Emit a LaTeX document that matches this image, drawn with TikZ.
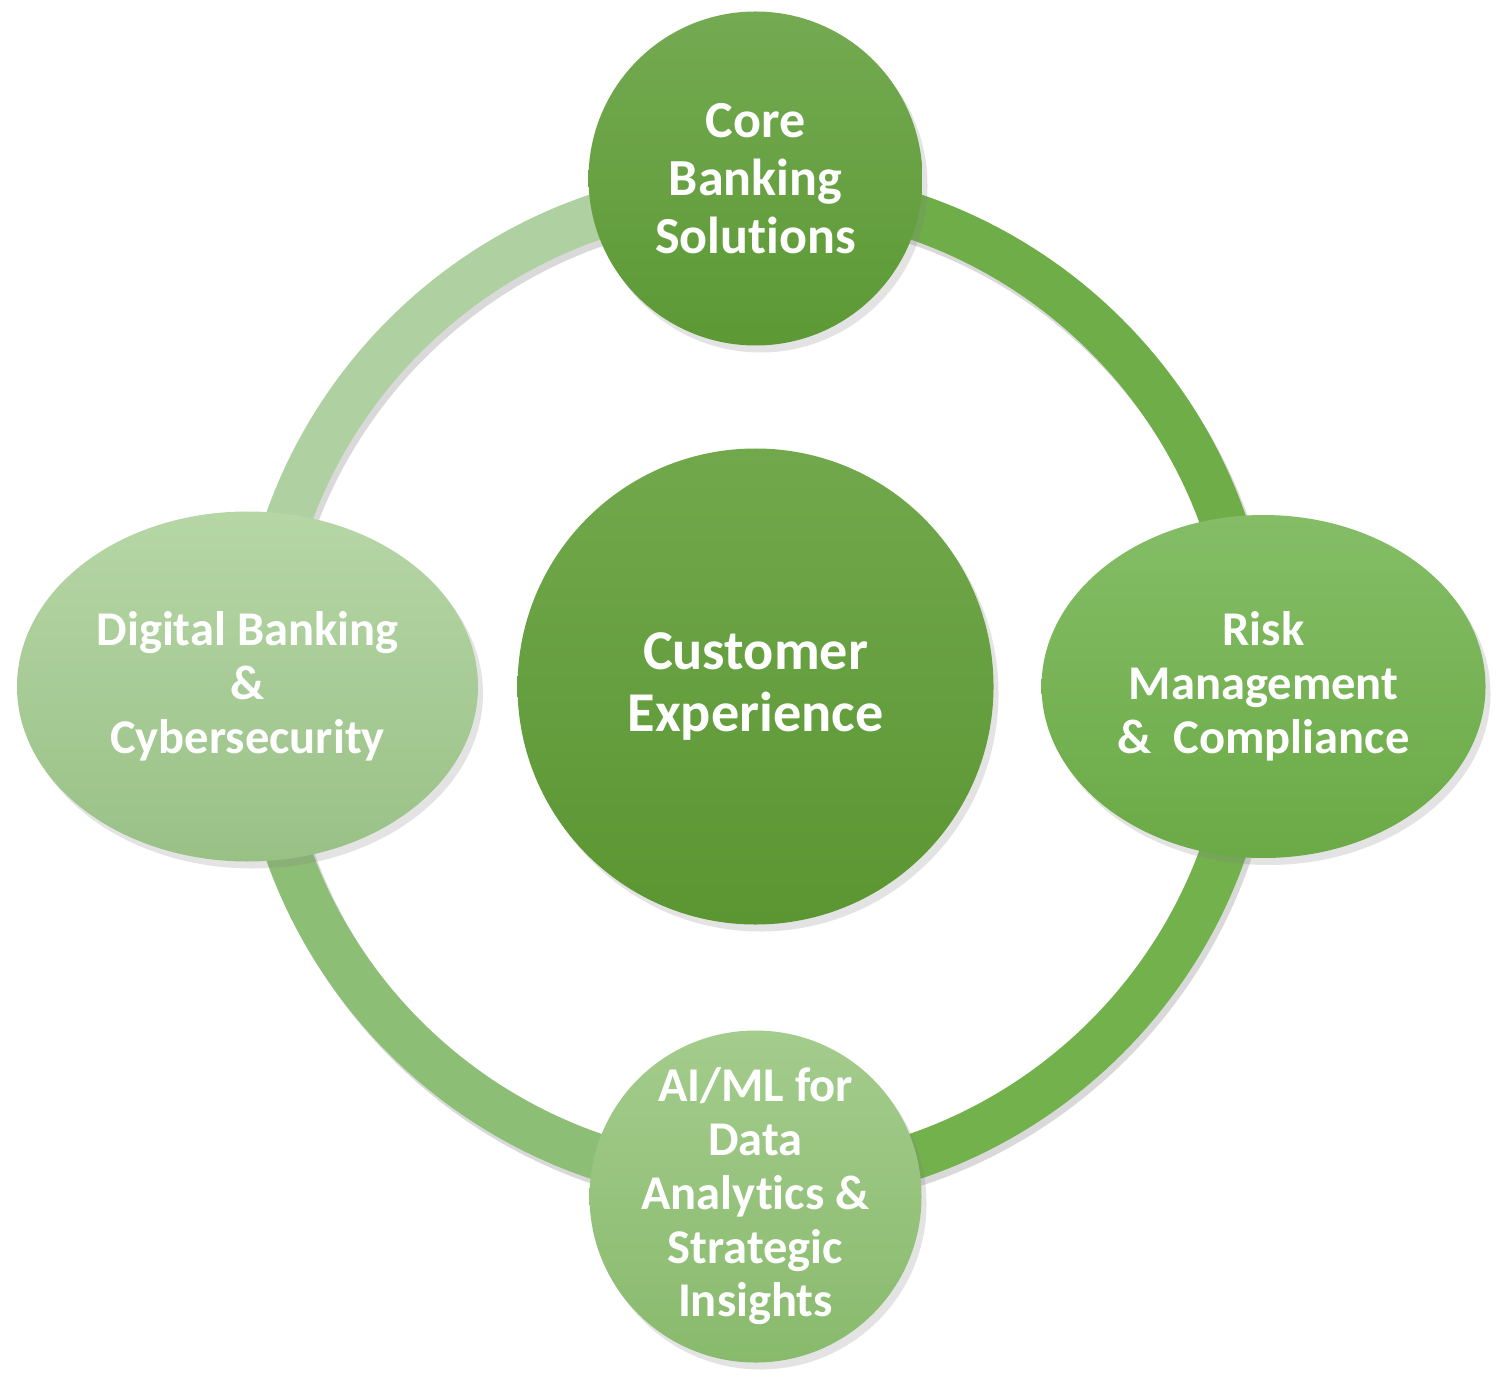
\documentclass[tikz,border=0pt]{standalone}
\usepackage{fontspec}
\setmainfont{Carlito}[Ligatures={TeX,NoCommon}]
\usepackage{xcolor}
\usepackage{tikz}
\usetikzlibrary{positioning, shapes.geometric, shadows}

\definecolor{hubtop}{HTML}{71A84C}
\definecolor{hubbot}{HTML}{5B9632}
\definecolor{coretop}{HTML}{74AA52}
\definecolor{corebot}{HTML}{5C9934}
\definecolor{risktop}{HTML}{84BD66}
\definecolor{riskbot}{HTML}{6BAA46}
\definecolor{digitop}{HTML}{B6D6A6}
\definecolor{digibot}{HTML}{99C186}
\definecolor{aimltop}{HTML}{A4CC8D}
\definecolor{aimlbot}{HTML}{88BA6C}
\definecolor{ringTR}{HTML}{6FAD48}
\definecolor{ringTL}{HTML}{AFD0A0}
\definecolor{ringBL}{HTML}{8DBE76}
\definecolor{ringBR}{HTML}{73B14D}

\tikzset{
  ring/.style={line width=0.46cm},
  bubble/.style={inner sep=-2pt, text=white, align=center,
    font=\bfseries\fontsize{13.8}{15.3}\selectfont,
    drop shadow={opacity=0.22, shadow xshift=0.05cm, shadow yshift=-0.07cm}},
}

\begin{document}
\begin{tikzpicture}[node distance=5.08cm, on grid]
  \useasboundingbox (0,0) rectangle (15.05,13.85);
  \coordinate (o) at (7.555,6.985);

  % the ring, one quarter at a time
  \draw[ring, black, opacity=0.15] ([shift={(0.04,-0.06)}]o) circle (4.96);
  \foreach \a/\c in {0/ringTR, 90/ringTL, 180/ringBL, 270/ringBR}
    \draw[ring, \c] (o) ++(\a:4.96) arc[start angle=\a, end angle=\a+90, radius=4.96];

  \node[bubble, circle, minimum size=4.76cm, top color=hubtop, bottom color=hubbot,
        font=\bfseries\fontsize{16}{17.4}\selectfont] (C) at (o) {Customer\\Experience};
  \node[bubble, circle, minimum size=3.34cm, top color=coretop, bottom color=corebot,
        font=\bfseries\fontsize{14.8}{16.5}\selectfont] (T) [above=of C] {Core\\Banking\\Solutions};
  \node[bubble, ellipse, minimum width=4.61cm, minimum height=3.5cm,
        top color=digitop, bottom color=digibot] (L) [left=of C] {Digital Banking\\\&\\Cybersecurity};
  \node[bubble, ellipse, minimum width=4.44cm, minimum height=3.43cm,
        top color=risktop, bottom color=riskbot] (R) [right=of C] {Risk\\Management\\\&\ \ Compliance};
  \node[bubble, circle, minimum size=3.32cm, top color=aimltop, bottom color=aimlbot]
        (B) [below=5.1cm of C] {AI/ML for\\Data\\Analytics \&\\Strategic\\Insights};
\end{tikzpicture}
\end{document}
